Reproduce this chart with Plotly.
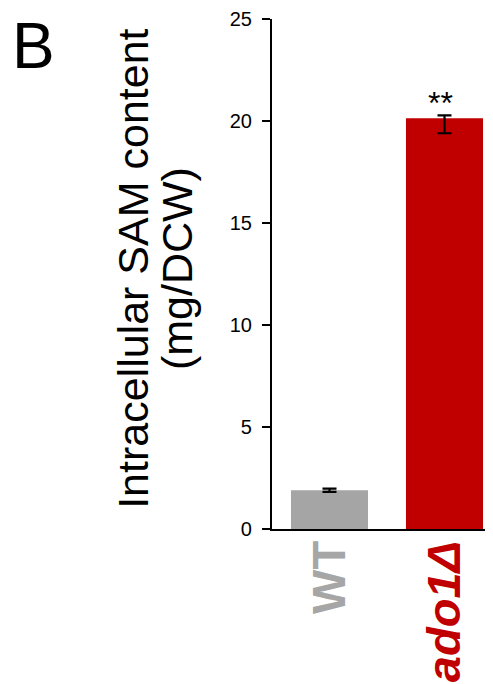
import plotly.graph_objects as go

categories = ["WT", "ado1Δ"]
tick_labels = ["<b><span style='color:#A6A6A6'>WT</span></b>",
               "<b><i><span style='color:#C00000'>ado1Δ</span></i></b>"]
values = [1.9, 20.13]
err_plus = [0.08, 0.15]
err_minus = [0.08, 0.73]
bar_colors = ["#A5A5A5", "#C00000"]
y_ticks = [0, 5, 10, 15, 20, 25]
significance = ["", "**"]

FONT = "Liberation Sans, Arial, sans-serif"

fig = go.Figure()
fig.add_trace(go.Bar(
    x=categories, y=values,
    marker=dict(color=bar_colors, line=dict(width=0)),
    error_y=dict(type="data", symmetric=False, array=err_plus, arrayminus=err_minus,
                 color="black", thickness=2.2, width=7),
    width=0.67,
))

for i, s in enumerate(significance):
    if s:
        fig.add_annotation(x=categories[i], y=values[i] + err_plus[i], text=s,
                           showarrow=False, yanchor="bottom", xshift=-4, yshift=-8,
                           font=dict(family=FONT, size=32, color="black"))

# y-axis title (two lines, tight spacing)
fig.add_annotation(xref="paper", yref="paper", x=-0.632, y=0.51,
                   text="Intracellular SAM content", textangle=-90, showarrow=False,
                   xanchor="center", yanchor="middle",
                   font=dict(family=FONT, size=43, color="black"))
fig.add_annotation(xref="paper", yref="paper", x=-0.431, y=0.51,
                   text="(mg/DCW)", textangle=-90, showarrow=False,
                   xanchor="center", yanchor="middle",
                   font=dict(family=FONT, size=43, color="black"))

# panel label
fig.add_annotation(xref="paper", yref="paper", x=-1.19, y=1.021,
                   text="B", showarrow=False, xanchor="left", yanchor="top",
                   font=dict(family=FONT, size=64, color="black"))

fig.update_layout(
    width=485, height=676,
    margin=dict(l=264, r=1, t=11, b=155, autoexpand=False),
    paper_bgcolor="white", plot_bgcolor="white",
    showlegend=False,
    font=dict(family=FONT, color="black"),
)
fig.update_xaxes(
    type="category", range=[-0.5, 1.413], automargin=False,
    tickmode="array", tickvals=categories, ticktext=tick_labels,
    tickangle=-90, tickfont=dict(family=FONT, size=47),
    showline=True, linecolor="black", linewidth=2.2, ticks="",
    showgrid=False, zeroline=False, ticklabelstandoff=-9,
)
fig.update_yaxes(
    range=[0, 25], tickmode="array", tickvals=y_ticks, automargin=False,
    ticks="outside", ticklen=8, tickwidth=2, tickcolor="black",
    showline=True, linecolor="black", linewidth=2.2,
    showgrid=False, zeroline=False,
    tickfont=dict(family=FONT, size=20, color="black"), ticklabelstandoff=6,
)

fig.write_html("out.html")
